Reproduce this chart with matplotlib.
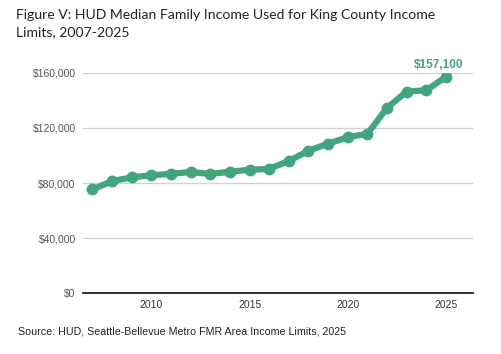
import matplotlib.pyplot as plt
from matplotlib.ticker import FuncFormatter

# datos
years = list(range(2007, 2026))
mfi = [75300, 81400, 84100, 85600, 86700, 88000, 86600, 88200, 89600, 90300,
       96000, 103400, 108600, 113300, 115700, 134600, 146500, 147400, 157100]
yticks = [0, 40000, 80000, 120000, 160000]
xticks = [2010, 2015, 2020, 2025]

green = '#43a57d'

fig = plt.figure(figsize=(5.01, 3.54), dpi=100)
ax = fig.add_axes([0.165, 0.172, 0.78, 0.622])

ax.plot(years, mfi, color=green, lw=4.5, marker='o', ms=7.5, solid_capstyle='round',
        solid_joinstyle='round', zorder=3)
ax.annotate(f'${mfi[-1]:,.0f}', (years[-1], mfi[-1]), xytext=(-5, 4),
            textcoords='offset points', ha='center', va='bottom',
            color=green, fontsize=8.5, fontweight='bold', family='Liberation Sans')

ax.set_ylim(0, 160000)
ax.set_xlim(2006.5, 2026.4)
ax.set_yticks(yticks)
ax.set_xticks(xticks)
ax.yaxis.set_major_formatter(FuncFormatter(lambda v, p: f'${v:,.0f}'))
ax.grid(axis='y', color='#d0d0d0', lw=0.9)
ax.set_axisbelow(True)
for s in ['top', 'right', 'left']:
    ax.spines[s].set_visible(False)
ax.spines['bottom'].set_color('#222222')
ax.spines['bottom'].set_linewidth(1.3)
ax.tick_params(length=0, labelsize=7.5, labelcolor='#555555', pad=5)
ax.tick_params(axis='x', labelcolor='#333333', pad=5)
for lab in ax.get_xticklabels() + ax.get_yticklabels():
    lab.set_family('Liberation Sans')

fig.text(0.032, 0.975, 'Figure V: HUD Median Family Income Used for King County Income\nLimits, 2007-2025',
         ha='left', va='top', fontsize=10.1, family='Lato', color='#222222', linespacing=1.55)
fig.text(0.036, 0.063, 'Source: HUD, Seattle-Bellevue Metro FMR Area Income Limits, 2025',
         ha='left', va='center', fontsize=7.7, family='Liberation Sans', color='#222222')

fig.savefig('out.png', dpi=100)
